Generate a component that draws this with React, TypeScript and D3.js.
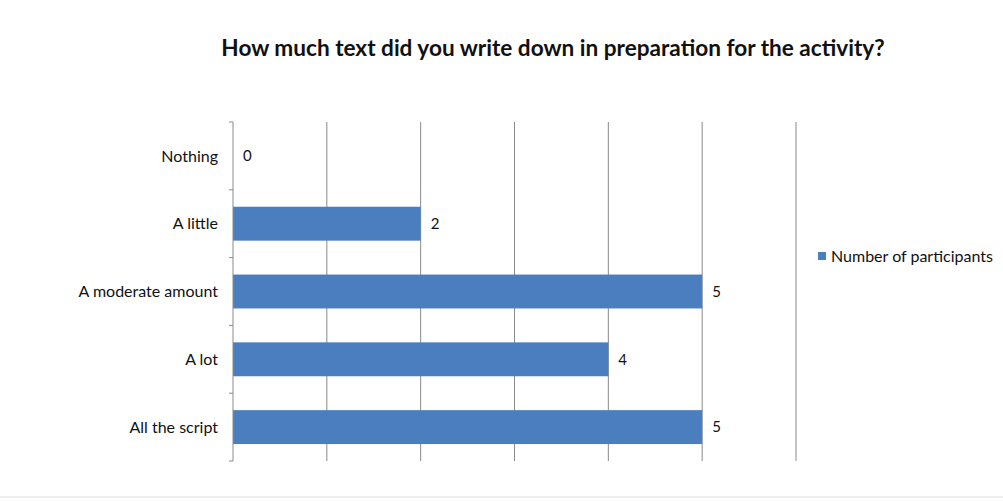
import React from "react";
import * as d3 from "d3";

const categories = ["Nothing", "A little", "A moderate amount", "A lot", "All the script"];
const values = [0, 2, 5, 4, 5];
const xTicks = [0, 1, 2, 3, 4, 5, 6];
const seriesName = "Number of participants";
const title = "How much text did you write down in preparation for the activity?";

const W = 1003;
const H = 501;
const FONT = "Lato, Carlito, Calibri, 'Open Sans', sans-serif";
const BAR = "#4A7EBF";

export default function App() {
  const x = d3.scaleLinear().domain([0, 6]).range([233, 796]);
  const y = d3.scaleBand<string>().domain(categories).range([122, 461]).paddingInner(0.5).paddingOuter(0.25);
  const boundaries = d3.range(categories.length + 1).map((i) => 122 + i * (339 / categories.length));
  return (
    <svg width={W} height={H} style={{ position: "absolute", left: 0, top: 0, background: "#fff" }}>
      <text x={553} y={56} textAnchor="middle" fontFamily={FONT} fontWeight="bold" fontSize={22.6} fill="#111">
        {title}
      </text>
      {xTicks.slice(1).map((t) => (
        <line key={t} x1={x(t)} x2={x(t)} y1={122} y2={461} stroke="#8a8a8a" strokeWidth={1} />
      ))}
      {categories.map((c, i) => (
        <rect key={c} x={x(0)} y={y(c)!} width={x(values[i]) - x(0)} height={y.bandwidth()} fill={BAR} />
      ))}
      <line x1={x(0)} x2={x(0)} y1={122} y2={461} stroke="#8a8a8a" strokeWidth={1} />
      {boundaries.map((b, i) => (
        <line key={i} x1={x(0) - 4} x2={x(0)} y1={b} y2={b} stroke="#8a8a8a" strokeWidth={1} />
      ))}
      {categories.map((c) => (
        <text key={c} x={218} y={y(c)! + y.bandwidth() / 2} dy="0.35em" textAnchor="end" fontFamily={FONT} fontSize={16} fill="#111">
          {c}
        </text>
      ))}
      {categories.map((c, i) => (
        <text key={c} x={x(values[i]) + 10} y={y(c)! + y.bandwidth() / 2} dy="0.35em" fontFamily={FONT} fontSize={15} fill="#111" style={{ fontVariantNumeric: "lining-nums" }}>
          {values[i]}
        </text>
      ))}
      <rect x={818} y={252} width={8} height={8} fill={BAR} />
      <text x={831} y={256} dy="0.35em" fontFamily={FONT} fontSize={16} fill="#111">
        {seriesName}
      </text>
      <line x1={0} x2={W} y1={497} y2={497} stroke="#eeeeee" strokeWidth={2} />
    </svg>
  );
}
